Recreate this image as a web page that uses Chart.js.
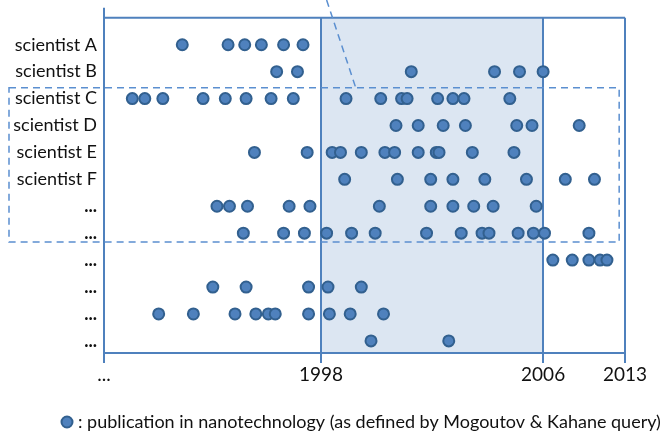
<!DOCTYPE html>
<html>
<head>
<meta charset="utf-8">
<script src="https://cdn.jsdelivr.net/npm/chart.js@4/dist/chart.umd.min.js"></script>
<style>
  body { margin: 0; background: #fff; }
  #wrap { width: 672px; height: 433px; }
</style>
</head>
<body>
<div id="wrap"><canvas id="pubChart" width="672" height="433"></canvas></div>
<script>
// row labels, top to bottom
const rowLabels = ['scientist A', 'scientist B', 'scientist C', 'scientist D', 'scientist E', 'scientist F',
    '...', '...', '...', '...', '...', '...'];

// publication positions per row (x in year units of the 1998-2006 band)
const rowA = [1993.0, 1994.65, 1995.25, 1995.85, 1996.65, 1997.35];
const rowB = [1996.4, 1997.15, 2001.25, 2004.25, 2005.15, 2006.0];
const rowC = [1991.2, 1991.65, 1992.3, 1993.75, 1994.55, 1995.3, 1996.2, 1997.0,
    1998.9, 2000.15, 2000.9, 2001.1, 2002.2, 2002.75, 2003.15, 2004.8];
const rowD = [2000.7, 2001.5, 2002.4, 2003.2, 2005.05, 2005.6, 2007.3];
const rowE = [1995.6, 1997.5, 1998.4, 1998.7, 1999.45, 2000.3, 2000.65, 2001.5, 2002.15, 2002.25, 2003.45, 2004.95];
const rowF = [1998.85, 2000.75, 2001.95, 2002.75, 2003.9, 2005.4, 2006.8, 2007.85];
const row7 = [1994.25, 1994.7, 1995.35, 1996.85, 1997.6, 2000.1, 2001.95, 2002.75, 2003.5, 2004.2, 2005.75];
const row8 = [1995.2, 1996.65, 1997.4, 1998.2, 1999.1, 1999.95, 2001.8, 2003.05, 2003.8, 2004.05,
    2005.1, 2005.65, 2006.05, 2007.65];
const row9 = [2006.35, 2007.05, 2007.65, 2008.05, 2008.3];
const row10 = [1994.1, 1995.3, 1997.55, 1998.25, 1999.45];
const row11 = [1992.15, 1993.4, 1994.9, 1995.65, 1996.1, 1996.35, 1997.55, 1998.3, 1999.05, 2000.25];
const row12 = [1999.8, 2002.6];
const rows = [rowA, rowB, rowC, rowD, rowE, rowF, row7, row8, row9, row10, row11, row12];

// x axis: left end, band start, band end, right end
const xTickValues = [1990.18, 1998, 2006, 2008.95];
const xTickLabels = ['...', '1998', '2006', '2013'];

const legendText = ': publication in nanotechnology (as defined by Mogoutov & Kahane query)';

const blue = '#4f81bd';
const darkBlue = '#32608f';
const fontFamily = 'Lato, "Open Sans", sans-serif';

const points = [];
rows.forEach((row, i) => {
    row.forEach(x => points.push({ x: x, y: i }));
});

// shaded band, top frame, dashed selection box and its pointer line, legend
const overlay = {
    id: 'overlay',
    beforeDraw(chart) {
        const { ctx, chartArea: a, scales: { x } } = chart;
        ctx.save();
        ctx.fillStyle = '#dce6f2';
        const x1 = x.getPixelForValue(1998);
        const x2 = x.getPixelForValue(2006);
        ctx.fillRect(x1, a.top, x2 - x1, a.bottom - a.top);
        ctx.restore();
    },
    afterDraw(chart) {
        const { ctx, chartArea: a, scales: { x, y } } = chart;
        ctx.save();
        ctx.strokeStyle = blue;
        ctx.lineWidth = 2;
        ctx.beginPath();
        ctx.moveTo(a.left, a.top - 10);
        ctx.lineTo(a.left, a.top);
        ctx.lineTo(a.right, a.top);
        ctx.stroke();

        ctx.strokeStyle = '#5b8fd0';
        ctx.lineWidth = 1.5;
        ctx.setLineDash([7, 5]);
        const top = y.getPixelForValue(1.6);
        const bottom = y.getPixelForValue(7.33);
        const right = x.getPixelForValue(2008.74);
        ctx.strokeRect(9, top, right - 9, bottom - top);
        ctx.beginPath();
        ctx.moveTo(x.getPixelForValue(1998.2), 0);
        ctx.lineTo(x.getPixelForValue(1999.25), top);
        ctx.stroke();
        ctx.setLineDash([]);

        // legend
        ctx.fillStyle = blue;
        ctx.strokeStyle = darkBlue;
        ctx.lineWidth = 2;
        ctx.beginPath();
        ctx.arc(67, 422, 5.5, 0, Math.PI * 2);
        ctx.fill();
        ctx.stroke();
        ctx.fillStyle = '#111';
        ctx.font = '18px ' + fontFamily;
        ctx.textBaseline = 'middle';
        ctx.fillText(legendText, 78, 422);
        ctx.restore();
    }
};

new Chart(document.getElementById('pubChart'), {
    type: 'scatter',
    data: {
        datasets: [{
            label: legendText,
            data: points,
            pointRadius: 5.5,
            pointHoverRadius: 5.5,
            borderWidth: 2,
            backgroundColor: blue,
            borderColor: darkBlue
        }]
    },
    options: {
        responsive: false,
        animation: false,
        layout: { padding: { top: 17, right: 47, bottom: 50, left: 0 } },
        plugins: {
            legend: { display: false },
            tooltip: { enabled: false }
        },
        scales: {
            x: {
                type: 'linear',
                min: xTickValues[0],
                max: xTickValues[3],
                afterBuildTicks: scale => {
                    scale.ticks = xTickValues.map(v => ({ value: v }));
                },
                afterFit: scale => { scale.height = 30; },
                ticks: {
                    autoSkip: false,
                    maxRotation: 0,
                    padding: 0,
                    color: '#111',
                    font: { family: fontFamily, size: 19 },
                    callback: (v, i) => xTickLabels[i]
                },
                grid: {
                    color: blue,
                    lineWidth: 2,
                    tickLength: 10
                },
                border: { color: blue, width: 2 }
            },
            y: {
                type: 'linear',
                reverse: true,
                min: -1,
                max: 11.45,
                afterBuildTicks: scale => {
                    scale.ticks = rowLabels.map((l, i) => ({ value: i }));
                },
                afterFit: scale => { scale.width = 104; },
                ticks: {
                    autoSkip: false,
                    padding: 7,
                    color: '#111',
                    font: ctx => ({
                        family: fontFamily,
                        size: 18,
                        weight: ctx.index >= 6 ? 'bold' : 'normal'
                    }),
                    callback: (v, i) => rowLabels[i]
                },
                grid: { display: false, drawTicks: false, tickLength: 0 },
                border: { display: false }
            }
        }
    },
    plugins: [overlay]
});
</script>
</body>
</html>
